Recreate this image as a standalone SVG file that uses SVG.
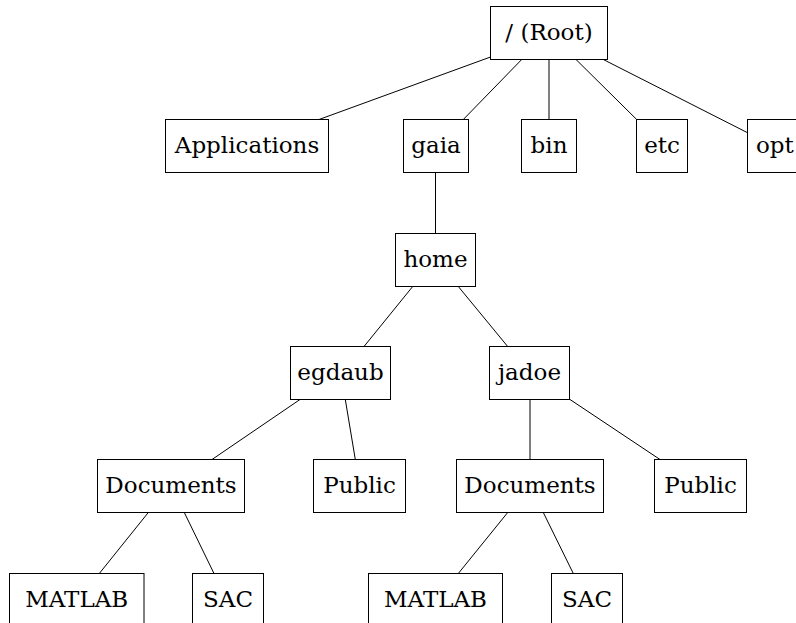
<svg xmlns="http://www.w3.org/2000/svg" width="796" height="623" viewBox="0 0 796 623">
<style>
.box{fill:#fff;stroke:#000;stroke-width:1}
.lbl{font-family:'DejaVu Serif','Liberation Serif',serif;font-size:23px;fill:#000;text-anchor:middle}
.edges line{stroke:#000;stroke-width:1}
</style>
<rect width="796" height="623" fill="#fff"/>
<g class="edges" id="connectors">
<line x1="490.5" y1="57" x2="319" y2="119.5"/>
<line x1="521.7" y1="59.5" x2="463.3" y2="119.5"/>
<line x1="549" y1="59.5" x2="549" y2="119.5"/>
<line x1="576" y1="59.5" x2="636.7" y2="119.5"/>
<line x1="603.3" y1="59.5" x2="747.5" y2="132.7"/>
<line x1="435.5" y1="172.5" x2="435.5" y2="233.5"/>
<line x1="412.7" y1="286.5" x2="364" y2="346.5"/>
<line x1="458.3" y1="286.5" x2="507.7" y2="346.5"/>
<line x1="300" y1="399.5" x2="212" y2="459.5"/>
<line x1="345.3" y1="399.5" x2="355.3" y2="459.5"/>
<line x1="530" y1="399.5" x2="530" y2="459.5"/>
<line x1="570" y1="399.5" x2="660" y2="459.5"/>
<line x1="148.3" y1="512.5" x2="99.3" y2="573.5"/>
<line x1="184.3" y1="512.5" x2="214" y2="573.5"/>
<line x1="507.7" y1="512.5" x2="458.3" y2="573.5"/>
<line x1="543.3" y1="512.5" x2="573.3" y2="573.5"/>
</g>
<g id="root"><rect class="box" x="490.5" y="6.5" width="117" height="53"/><text class="lbl" x="549" y="40">/ (Root)</text></g>
<g id="applications"><rect class="box" x="165.5" y="119.5" width="163" height="53"/><text class="lbl" x="247" y="153">Applications</text></g>
<g id="gaia"><rect class="box" x="403.5" y="119.5" width="65" height="53"/><text class="lbl" x="436" y="153">gaia</text></g>
<g id="bin"><rect class="box" x="521.5" y="119.5" width="55" height="53"/><text class="lbl" x="549" y="153">bin</text></g>
<g id="etc"><rect class="box" x="636.5" y="119.5" width="51" height="53"/><text class="lbl" x="662" y="153">etc</text></g>
<g id="opt"><rect class="box" x="747.5" y="119.5" width="60" height="53"/><text class="lbl" x="756" y="153" style="text-anchor:start">opt</text></g>
<g id="home"><rect class="box" x="395.5" y="233.5" width="80" height="53"/><text class="lbl" x="435.5" y="267">home</text></g>
<g id="egdaub"><rect class="box" x="290.5" y="346.5" width="100" height="53"/><text class="lbl" x="340.5" y="380">egdaub</text></g>
<g id="jadoe"><rect class="box" x="489.5" y="346.5" width="80" height="53"/><text class="lbl" x="529.5" y="380">jadoe</text></g>
<g id="documents-egdaub"><rect class="box" x="97.5" y="459.5" width="147" height="53"/><text class="lbl" x="171" y="493">Documents</text></g>
<g id="public-egdaub"><rect class="box" x="313.5" y="459.5" width="92" height="53"/><text class="lbl" x="359.5" y="493">Public</text></g>
<g id="documents-jadoe"><rect class="box" x="456.5" y="459.5" width="147" height="53"/><text class="lbl" x="530" y="493">Documents</text></g>
<g id="public-jadoe"><rect class="box" x="654.5" y="459.5" width="92" height="53"/><text class="lbl" x="700.5" y="493">Public</text></g>
<g id="matlab-egdaub"><rect class="box" x="9.5" y="573.5" width="134.5" height="60"/><text class="lbl" x="76.7" y="607">MATLAB</text></g>
<g id="sac-egdaub"><rect class="box" x="192.5" y="573.5" width="71" height="60"/><text class="lbl" x="228" y="607">SAC</text></g>
<g id="matlab-jadoe"><rect class="box" x="368.5" y="573.5" width="134" height="60"/><text class="lbl" x="435.5" y="607">MATLAB</text></g>
<g id="sac-jadoe"><rect class="box" x="551.5" y="573.5" width="71" height="60"/><text class="lbl" x="587" y="607">SAC</text></g>
</svg>
